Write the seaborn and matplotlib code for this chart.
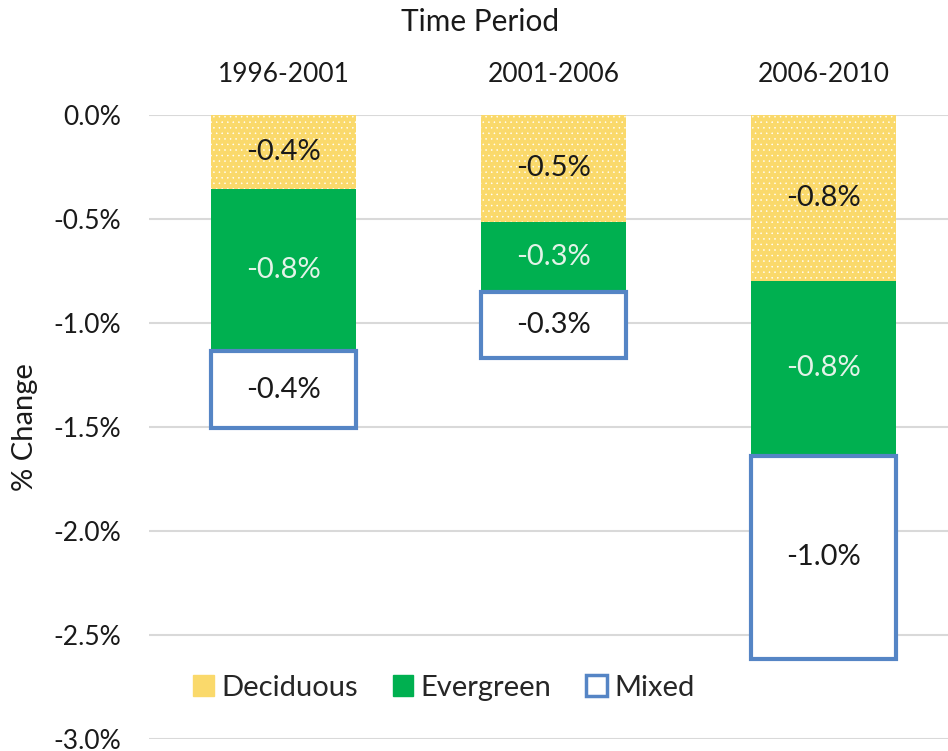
import numpy as np
import pandas as pd
import matplotlib
matplotlib.use("Agg")
import matplotlib.pyplot as plt
import seaborn as sns
from matplotlib.patches import Patch

periods = ["1996-2001", "2001-2006", "2006-2010"]
deciduous = [0.356, 0.514, 0.798]
evergreen = [0.779, 0.337, 0.841]
mixed = [0.370, 0.317, 0.976]
yticks = [0.0, -0.5, -1.0, -1.5, -2.0, -2.5, -3.0]

sns.set_theme(style="white")
plt.rcParams["font.family"] = ["Lato", "DejaVu Sans"]
plt.rcParams["hatch.color"] = "white"
plt.rcParams["hatch.linewidth"] = 0.35

fig = plt.figure(figsize=(9.48, 7.51), dpi=100)
ax = fig.add_axes([149/948, 12/751, 799/948, 624/751])

df = pd.DataFrame({"period": periods,
                   "dec": -np.array(deciduous),
                   "ever": -np.array(evergreen),
                   "mix": -np.array(mixed)})
df["b_ever"] = df["dec"]
df["b_mix"] = df["dec"] + df["ever"]

W = 0.537
sns.barplot(data=df, x="period", y="dec", ax=ax, color="#FAD96B", width=W,
            linewidth=0, saturation=1, zorder=3)
for p in ax.patches:
    p.set_hatch("...")
    p.set_edgecolor("white")
    p.set_linewidth(0)
sns.barplot(data=df, x="period", y="ever", bottom=df["b_ever"], ax=ax, color="#00B050",
            width=W, linewidth=0, saturation=1, zorder=3)
sns.barplot(data=df, x="period", y="mix", bottom=df["b_mix"], ax=ax, color="white",
            width=W, edgecolor="#5585C5", linewidth=3, saturation=1, zorder=3)
for p in ax.patches[len(ax.patches)-3:]:
    p.set_facecolor("white")
    p.set_edgecolor("#5585C5")
    p.set_linewidth(3)

fs = 19
fl = 21
for i in range(3):
    d, e, m = deciduous[i], evergreen[i], mixed[i]
    ax.text(i, -d/2, f"-{d:.1f}%", ha="center", va="center", fontsize=fl, color="#1a1a1a", zorder=5)
    ax.text(i, -d - e/2, f"-{e:.1f}%", ha="center", va="center", fontsize=fl, color="#E3F3E8", zorder=5)
    ax.text(i, -d - e - m/2, f"-{m:.1f}%", ha="center", va="center", fontsize=fl, color="#1a1a1a", zorder=5)

ax.set_ylim(-3.0, 0.0)
ax.set_xlim(-0.498, 2.461)
ax.set_yticks(yticks)
ax.set_yticklabels([f"{v:.1f}%" for v in yticks])
ax.yaxis.grid(True, color="#D9D9D9", linewidth=1.5, zorder=0)
ax.set_axisbelow(True)
for s in ax.spines.values():
    s.set_visible(False)
ax.xaxis.tick_top()
ax.xaxis.set_label_position("top")
ax.tick_params(axis="x", length=0, pad=20, labelsize=fs, colors="#1a1a1a")
ax.tick_params(axis="y", length=0, pad=20, labelsize=fs, colors="#1a1a1a")
ax.set_xlabel("Time Period", fontsize=21.5, color="#1a1a1a")
ax.xaxis.set_label_coords((480 - 149) / 799, 1.135)
ax.set_ylabel("% Change", fontsize=21, color="#1a1a1a")
ax.yaxis.set_label_coords(-(149 - 38) / 799, 0.5)

handles = [Patch(facecolor="#FAD96B", edgecolor="#FAD96B", label="Deciduous"),
           Patch(facecolor="#00B050", edgecolor="#00B050", label="Evergreen"),
           Patch(facecolor="white", edgecolor="#5585C5", linewidth=2.5, label="Mixed")]
ax.legend(handles=handles, loc="center", bbox_to_anchor=(0.369, 0.082), ncol=3,
          frameon=False, fontsize=21, handlelength=0.7, handleheight=0.7,
          handletextpad=0.25, columnspacing=1.2)

fig.savefig("out.png", dpi=100)
